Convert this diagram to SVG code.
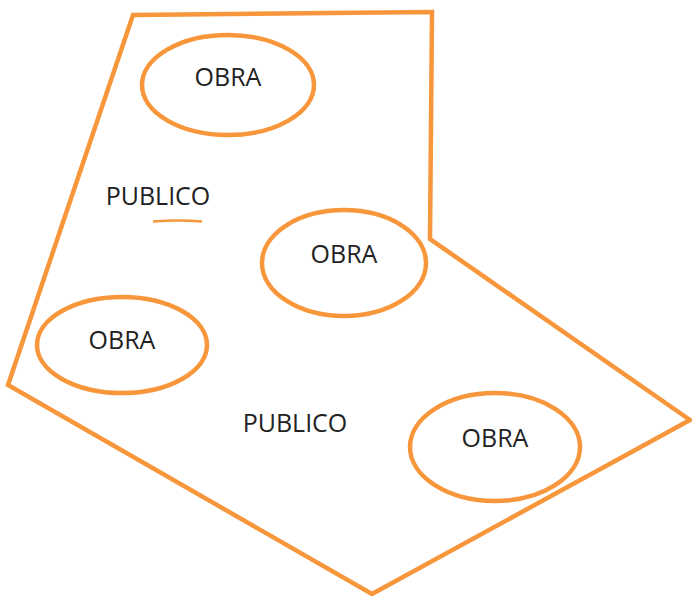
<svg xmlns="http://www.w3.org/2000/svg" width="692" height="596" viewBox="0 0 692 596">
<style>
.o{fill:none;stroke:#F7963A;stroke-width:4.5}
.t{font-family:"Open Sans","Liberation Sans",sans-serif;font-size:25px;fill:#222;text-anchor:middle}
</style>
<rect width="692" height="596" fill="#fff"/>
<g id="zone">
<polygon class="o" points="133,15 432,12 430,239 690,420 372,594 8,385"/>
<path d="M153,221.5 Q178,219.5 202,221.5" fill="none" stroke="#F7963A" stroke-width="2.5"/>
</g>
<g id="connectors"></g>
<g id="obra1"><ellipse class="o" cx="228" cy="85" rx="86" ry="50"/><text class="t" x="228" y="86">OBRA</text></g>
<g id="obra2"><ellipse class="o" cx="344" cy="263" rx="82" ry="53"/><text class="t" x="344" y="263">OBRA</text></g>
<g id="obra3"><ellipse class="o" cx="122" cy="345" rx="85" ry="48"/><text class="t" x="122" y="349">OBRA</text></g>
<g id="obra4"><ellipse class="o" cx="495" cy="447" rx="85" ry="54"/><text class="t" x="495" y="447">OBRA</text></g>
<g id="publico1"><text class="t" x="158" y="205">PUBLICO</text></g>
<g id="publico2"><text class="t" x="295" y="432">PUBLICO</text></g>
</svg>
